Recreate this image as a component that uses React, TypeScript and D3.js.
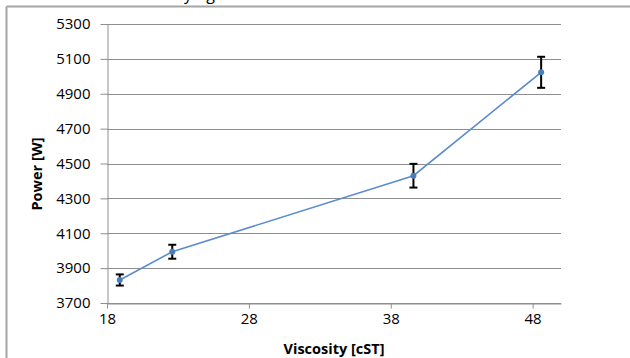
import React, { useRef, useEffect } from 'react';
import * as d3 from 'd3';

// Measured values
const viscosity = [18.9, 22.6, 39.6, 48.6];
const power = [3832, 3994, 4430, 5023];
const powerError = [32, 40, 68, 89];

const xTicks = [18, 28, 38, 48];
const yTicks = [3700, 3900, 4100, 4300, 4500, 4700, 4900, 5100, 5300];

const width = 630;
const height = 358;
const margin = { top: 24, right: 69, bottom: 55, left: 107 };

const font = "'Open Sans', 'Noto Sans', sans-serif";

const App: React.FC = () => {
  const svgRef = useRef<SVGSVGElement>(null);

  useEffect(() => {
    const svg = d3.select(svgRef.current);
    svg.selectAll('*').remove();

    const innerWidth = width - margin.left - margin.right;
    const innerHeight = height - margin.top - margin.bottom;

    // outer frame (only top and left edges visible)
    svg.append('line')
      .attr('x1', 6.5).attr('x2', width).attr('y1', 6.5).attr('y2', 6.5)
      .attr('stroke', '#a6a6a6').attr('stroke-width', 2);
    svg.append('line')
      .attr('x1', 6.5).attr('x2', 6.5).attr('y1', 6.5).attr('y2', height)
      .attr('stroke', '#a6a6a6').attr('stroke-width', 2);

    // cut-off caption text above the chart
    svg.append('text')
      .attr('x', 184)
      .attr('y', -0.5)
      .attr('font-family', font)
      .attr('font-size', 16)
      .attr('word-spacing', 10)
      .attr('fill', '#000')
      .text('y g');

    const g = svg.append('g').attr('transform', `translate(${margin.left}, ${margin.top})`);

    const xScale = d3.scaleLinear().domain([18, 50]).range([0, innerWidth]);
    const yScale = d3.scaleLinear().domain([3700, 5300]).range([innerHeight, 0]);

    const gridColor = '#8e8e8e';

    // horizontal grid lines
    g.selectAll('.grid-line-y')
      .data(yTicks)
      .enter()
      .append('line')
      .attr('class', 'grid-line-y')
      .attr('x1', 0)
      .attr('x2', innerWidth)
      .attr('y1', d => Math.round(yScale(d)) + 0.5)
      .attr('y2', d => Math.round(yScale(d)) + 0.5)
      .attr('stroke', gridColor)
      .attr('stroke-width', 1);

    // X axis
    const xAxis = g.append('g')
      .attr('transform', `translate(0, ${Math.round(innerHeight) + 0.5})`)
      .call(d3.axisBottom(xScale).tickValues(xTicks).tickSize(5).tickSizeOuter(0).tickPadding(5));
    xAxis.select('.domain').attr('stroke', gridColor);
    xAxis.selectAll('.tick line').attr('stroke', gridColor);
    xAxis.selectAll('text')
      .attr('fill', '#000')
      .style('font-family', font)
      .style('font-size', '15px');

    // Y axis
    const yAxis = g.append('g')
      .attr('transform', 'translate(0.5, 0)')
      .call(d3.axisLeft(yScale).tickValues(yTicks).tickSize(7).tickSizeOuter(0).tickPadding(10)
        .tickFormat(d3.format('d')));
    yAxis.select('.domain').attr('stroke', gridColor);
    yAxis.selectAll('.tick line').attr('stroke', gridColor);
    yAxis.selectAll('text')
      .attr('fill', '#000')
      .style('font-family', font)
      .style('font-size', '15px');

    const points = viscosity.map((v, i) => ({ x: v, y: power[i], err: powerError[i] }));

    // error bars
    const bars = g.selectAll('.err')
      .data(points)
      .enter()
      .append('g')
      .attr('class', 'err');

    bars.append('line')
      .attr('x1', d => xScale(d.x))
      .attr('x2', d => xScale(d.x))
      .attr('y1', d => yScale(d.y + d.err))
      .attr('y2', d => yScale(d.y - d.err))
      .attr('stroke', '#000')
      .attr('stroke-width', 2);

    [1, -1].forEach(sign => {
      bars.append('line')
        .attr('x1', d => xScale(d.x) - 4)
        .attr('x2', d => xScale(d.x) + 4)
        .attr('y1', d => yScale(d.y + sign * d.err))
        .attr('y2', d => yScale(d.y + sign * d.err))
        .attr('stroke', '#000')
        .attr('stroke-width', 2);
    });

    // series line
    const line = d3.line<any>()
      .x(d => xScale(d.x))
      .y(d => yScale(d.y));

    g.append('path')
      .datum(points)
      .attr('d', line)
      .attr('fill', 'none')
      .attr('stroke', '#5b8ccf')
      .attr('stroke-width', 1.6);

    // markers
    g.selectAll('.marker')
      .data(points)
      .enter()
      .append('circle')
      .attr('class', 'marker')
      .attr('cx', d => xScale(d.x))
      .attr('cy', d => yScale(d.y))
      .attr('r', 3)
      .attr('fill', '#4a7ebb');

    // axis titles
    g.append('text')
      .attr('x', xScale(18) + (xScale(50) - xScale(18)) / 2)
      .attr('y', innerHeight + 51)
      .attr('text-anchor', 'middle')
      .attr('fill', '#000')
      .style('font-family', font)
      .style('font-size', '14.5px')
      .style('font-weight', '700')
      .text('Viscosity [cST]');

    g.append('text')
      .attr('transform', 'rotate(-90)')
      .attr('x', -150)
      .attr('y', -65)
      .attr('text-anchor', 'middle')
      .attr('fill', '#000')
      .style('font-family', font)
      .style('font-size', '14.5px')
      .style('font-weight', '700')
      .text('Power [W]');
  }, []);

  return (
    <svg
      ref={svgRef}
      width={width}
      height={height}
      style={{ position: 'absolute', top: 0, left: 0, background: '#fff' }}
      viewBox={`0 0 ${width} ${height}`}
    />
  );
};

export default App;
